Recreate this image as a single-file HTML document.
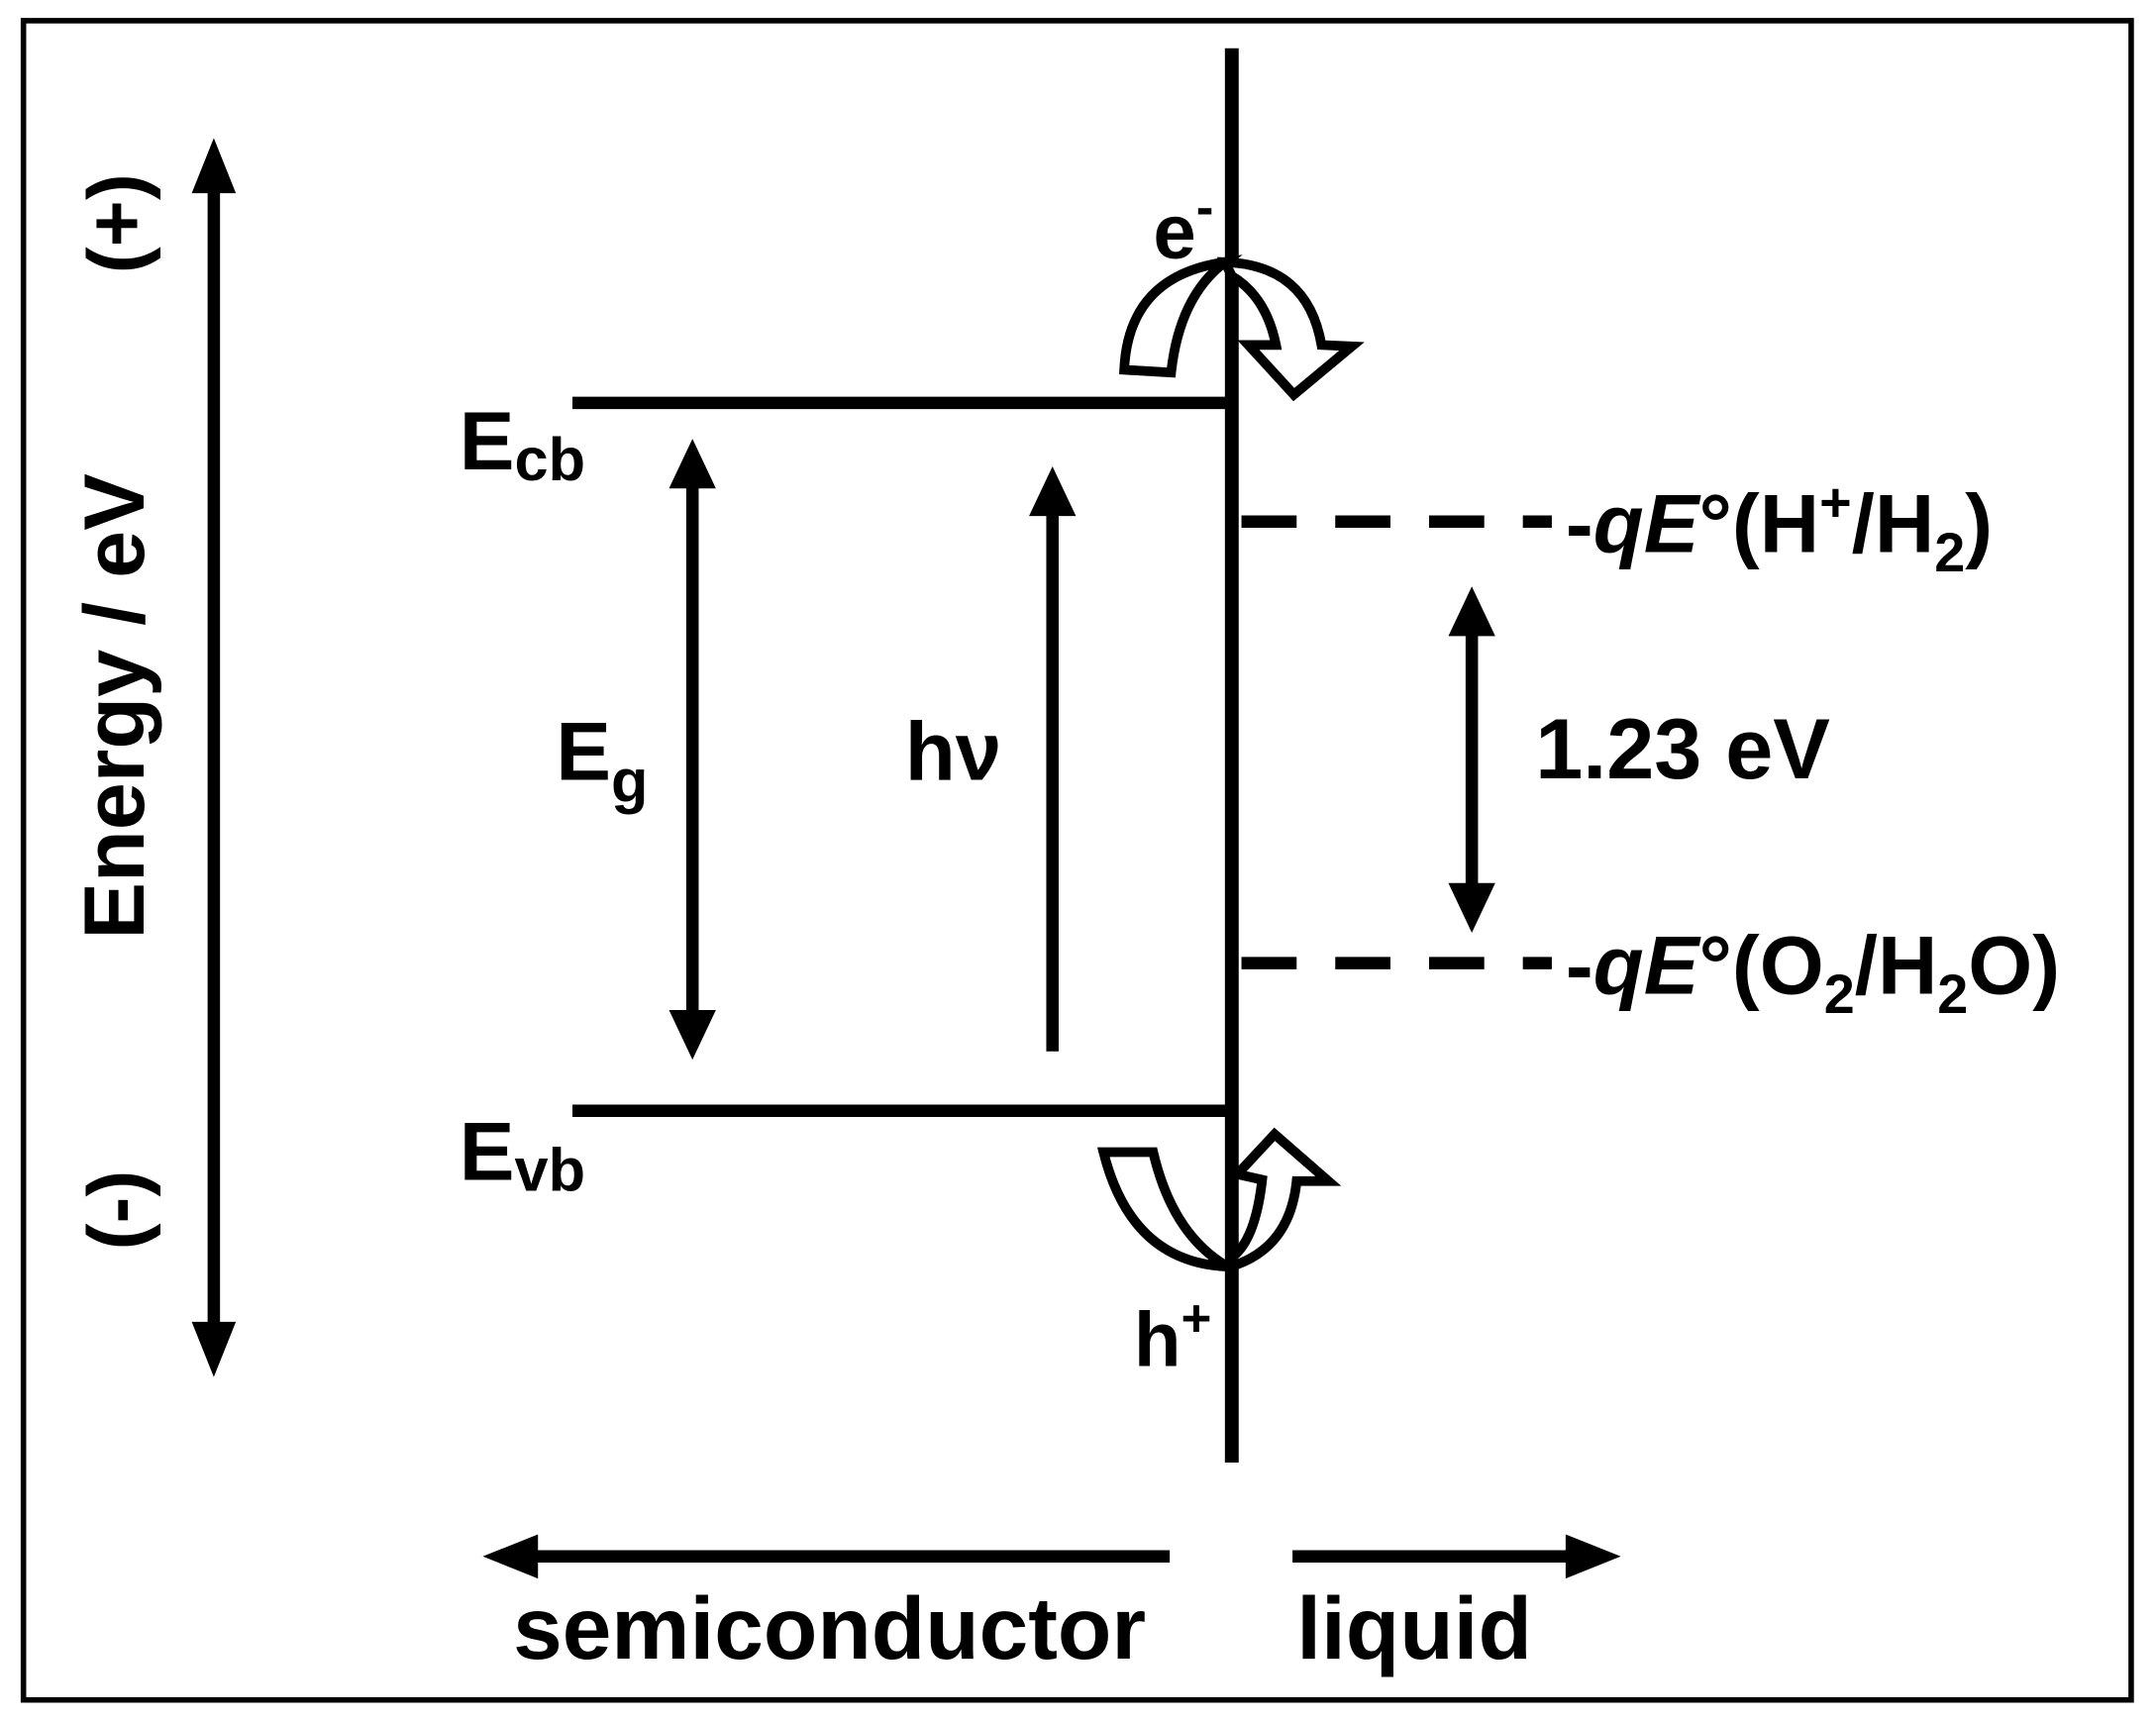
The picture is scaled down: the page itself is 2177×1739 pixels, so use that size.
<!DOCTYPE html>
<html><head><meta charset="utf-8"><style>
html,body{margin:0;padding:0;background:#fff;}
svg{display:block;}
text{font-family:"Liberation Sans",Arial,sans-serif;font-weight:bold;fill:#000;}
</style></head><body>
<svg width="2177" height="1739" viewBox="0 0 1563 1248" preserveAspectRatio="none" xmlns="http://www.w3.org/2000/svg">
<rect x="0" y="0" width="1563" height="1248" fill="#fff"/>
<rect x="17" y="15" width="1528" height="1217" fill="none" stroke="#000" stroke-width="4"/>
<line x1="893" y1="35" x2="893" y2="1060" stroke="#000" stroke-width="10"/>
<line x1="415" y1="292" x2="893" y2="292" stroke="#000" stroke-width="9"/>
<line x1="415" y1="805" x2="893" y2="805" stroke="#000" stroke-width="9"/>
<line x1="155" y1="130" x2="155" y2="970" stroke="#000" stroke-width="9"/>
<polygon points="155,100 139,140 171,140" fill="#000"/>
<polygon points="155,998 139,958 171,958" fill="#000"/>
<line x1="502" y1="345" x2="502" y2="740" stroke="#000" stroke-width="9"/>
<polygon points="502,318 485,354 519,354" fill="#000"/>
<polygon points="502,768 485,732 519,732" fill="#000"/>
<line x1="763" y1="365" x2="763" y2="762" stroke="#000" stroke-width="9"/>
<polygon points="763,338 746,374 780,374" fill="#000"/>
<line x1="900" y1="378" x2="1125" y2="378" stroke="#000" stroke-width="9" stroke-dasharray="40,28"/>
<line x1="900" y1="698" x2="1125" y2="698" stroke="#000" stroke-width="9" stroke-dasharray="40,28"/>
<line x1="1067" y1="450" x2="1067" y2="650" stroke="#000" stroke-width="9"/>
<polygon points="1067,425 1050,461 1084,461" fill="#000"/>
<polygon points="1067,676 1050,640 1084,640" fill="#000"/>
<line x1="378" y1="1128" x2="848" y2="1128" stroke="#000" stroke-width="9"/>
<polygon points="350,1128 390,1112 390,1144" fill="#000"/>
<line x1="937" y1="1128" x2="1145" y2="1128" stroke="#000" stroke-width="9"/>
<polygon points="1175,1128 1135,1112 1135,1144" fill="#000"/>
<path d="M815,268 Q818,200 888,190 Q855,215 849,270 Z" fill="#fff" stroke="#000" stroke-width="7"/>
<path d="M888,190 Q948,192 958,250 L980,251 L938,286 L905,250 L925,250 Q918,215 893,200 Z" fill="#fff" stroke="#000" stroke-width="7"/>
<path d="M800,835 L836,835 Q850,895 890,918 Q820,915 800,835 Z" fill="#fff" stroke="#000" stroke-width="7"/>
<path d="M892,918 Q935,905 940,856 L963,856 L924,822 L897,851 L915,855 Q910,900 892,912 Z" fill="#fff" stroke="#000" stroke-width="7"/>
<text x="836" y="187" font-size="56">e<tspan font-size="38" dy="-24">-</tspan></text>
<text x="822" y="990" font-size="56">h<tspan font-size="38" dy="-22">+</tspan></text>
<text x="333" y="340" font-size="60">E<tspan font-size="44" dy="8">cb</tspan></text>
<text x="333" y="855" font-size="60">E<tspan font-size="44" dy="8">vb</tspan></text>
<text x="403" y="565" font-size="60">E<tspan font-size="44" dy="16">g</tspan></text>
<text x="656" y="565" font-size="60">hν</text>
<text x="1113" y="564" font-size="62">1.23 eV</text>
<text x="1135" y="400" font-size="60">-<tspan font-style="italic">qE</tspan>°(H<tspan font-size="40" dy="-22">+</tspan><tspan dy="22">/H</tspan><tspan font-size="40" dy="14">2</tspan><tspan dy="-14">)</tspan></text>
<text x="1135" y="720" font-size="60">-<tspan font-style="italic">qE</tspan>°(O<tspan font-size="40" dy="14">2</tspan><tspan dy="-14">/H</tspan><tspan font-size="40" dy="14">2</tspan><tspan dy="-14">O)</tspan></text>
<text transform="translate(104,512) rotate(-90)" text-anchor="middle" font-size="62">Energy / eV</text>
<text transform="translate(104,162) rotate(-90)" text-anchor="middle" font-size="58">(+)</text>
<text transform="translate(104,877) rotate(-90)" text-anchor="middle" font-size="58">(-)</text>
<text x="372" y="1202" font-size="64">semiconductor</text>
<text x="940" y="1202" font-size="64">liquid</text>
</svg>
</body></html>
